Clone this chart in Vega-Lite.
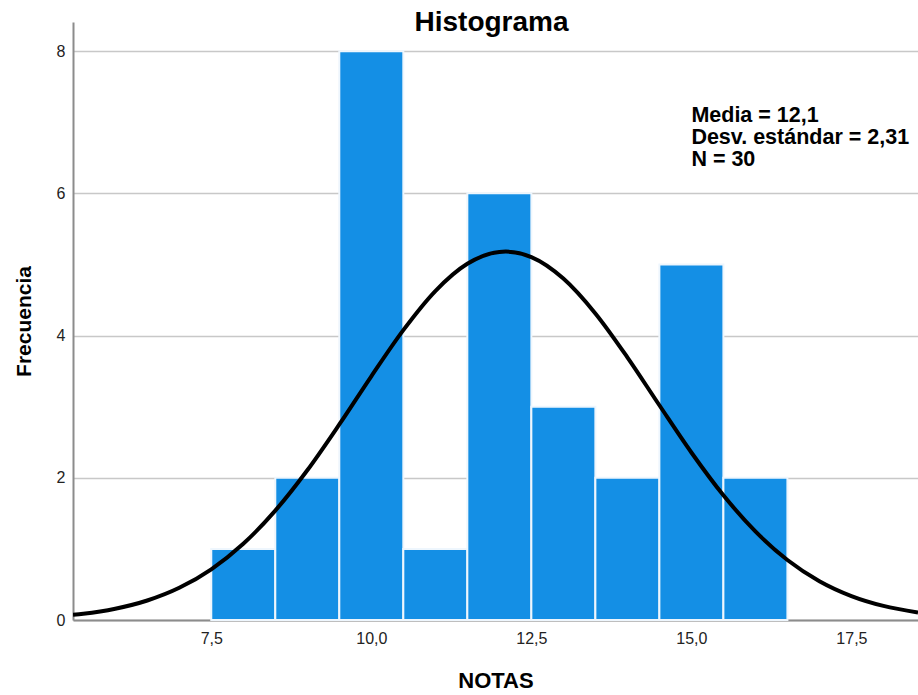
{
  "$schema": "https://vega.github.io/schema/vega-lite/v6.json",
  "autosize": "none",
  "width": 845,
  "height": 598,
  "padding": {"left": 73, "top": 22, "right": 0, "bottom": 75},
  "background": "white",
  "config": {
    "font": "Liberation Sans",
    "view": {"stroke": null},
    "axis": {"labelFont": "Liberation Sans", "titleFont": "Liberation Sans"}
  },
  "title": {
    "text": "Histograma",
    "fontSize": 28,
    "fontWeight": "bold",
    "font": "Liberation Sans",
    "anchor": "middle",
    "color": "#000000",
    "offset": 0,
    "dx": -4,
    "dy": 15
  },
  "datasets": {
    "bars": [
      {"nota": 8, "lo": 7.5, "hi": 8.5, "frecuencia": 1},
      {"nota": 9, "lo": 8.5, "hi": 9.5, "frecuencia": 2},
      {"nota": 10, "lo": 9.5, "hi": 10.5, "frecuencia": 8},
      {"nota": 11, "lo": 10.5, "hi": 11.5, "frecuencia": 1},
      {"nota": 12, "lo": 11.5, "hi": 12.5, "frecuencia": 6},
      {"nota": 13, "lo": 12.5, "hi": 13.5, "frecuencia": 3},
      {"nota": 14, "lo": 13.5, "hi": 14.5, "frecuencia": 2},
      {"nota": 15, "lo": 14.5, "hi": 15.5, "frecuencia": 5},
      {"nota": 16, "lo": 15.5, "hi": 16.5, "frecuencia": 2}
    ],
    "curve": [
      {"x": 5.34, "y": 0.0722},
      {"x": 5.5, "y": 0.0875},
      {"x": 6.0, "y": 0.1586},
      {"x": 6.5, "y": 0.2743},
      {"x": 7.0, "y": 0.4528},
      {"x": 7.5, "y": 0.7134},
      {"x": 8.0, "y": 1.0723},
      {"x": 8.5, "y": 1.5382},
      {"x": 9.0, "y": 2.1054},
      {"x": 9.5, "y": 2.75},
      {"x": 10.0, "y": 3.4275},
      {"x": 10.5, "y": 4.0762},
      {"x": 11.0, "y": 4.6257},
      {"x": 11.5, "y": 5.0092},
      {"x": 12.0, "y": 5.1762},
      {"x": 12.1, "y": 5.1811},
      {"x": 12.5, "y": 5.104},
      {"x": 13.0, "y": 4.8024},
      {"x": 13.5, "y": 4.3118},
      {"x": 14.0, "y": 3.6941},
      {"x": 14.5, "y": 3.0201},
      {"x": 15.0, "y": 2.356},
      {"x": 15.5, "y": 1.7539},
      {"x": 16.0, "y": 1.2458},
      {"x": 16.5, "y": 0.8444},
      {"x": 17.0, "y": 0.5462},
      {"x": 17.5, "y": 0.3371},
      {"x": 18.0, "y": 0.1985},
      {"x": 18.54, "y": 0.1059}
    ],
    "stats": [
      {"x": 15.0, "y": 7.24, "label": ["Media = 12,1", "Desv. estándar = 2,31", "N = 30"]}
    ]
  },
  "layer": [
    {
      "data": {"name": "bars"},
      "mark": {"type": "bar", "color": "#148fe5", "stroke": "#eef6fd", "strokeWidth": 2},
      "encoding": {
        "x": {
          "field": "lo",
          "type": "quantitative",
          "scale": {"domain": [5.34, 18.54], "nice": false, "zero": false},
          "axis": {
            "title": "NOTAS",
            "values": [7.5, 10, 12.5, 15, 17.5],
            "labelExpr": "replace(format(datum.value, '.1f'), '.', ',')",
            "grid": false,
            "ticks": false,
            "labelFontSize": 16,
            "labelColor": "#222222",
            "labelPadding": 10,
            "titleFontSize": 22,
            "titleFontWeight": "bold",
            "titleColor": "#000000",
            "titlePadding": 24,
            "domainColor": "#8c8c8c",
            "domainWidth": 2
          }
        },
        "x2": {"field": "hi"},
        "y": {
          "field": "frecuencia",
          "type": "quantitative",
          "scale": {"domain": [0, 8.41], "nice": false},
          "axis": {
            "title": "Frecuencia",
            "values": [0, 2, 4, 6, 8],
            "format": "d",
            "grid": true,
            "gridColor": "#c8c8c8",
            "gridWidth": 1.5,
            "ticks": false,
            "labelFontSize": 16,
            "labelColor": "#222222",
            "labelPadding": 8,
            "titleFontSize": 21,
            "titleFontWeight": "bold",
            "titleColor": "#000000",
            "titlePadding": 22,
            "domainColor": "#8c8c8c",
            "domainWidth": 2
          }
        },
        "y2": {"datum": 0}
      }
    },
    {
      "data": {"name": "curve"},
      "mark": {"type": "line", "color": "#000000", "strokeWidth": 4, "interpolate": "monotone", "clip": true},
      "encoding": {
        "x": {"field": "x", "type": "quantitative"},
        "y": {"field": "y", "type": "quantitative"}
      }
    },
    {
      "data": {"name": "stats"},
      "mark": {"type": "text", "align": "left", "baseline": "top", "fontSize": 21.5, "fontWeight": "bold", "lineHeight": 22, "color": "#000000", "font": "Liberation Sans"},
      "encoding": {
        "x": {"field": "x", "type": "quantitative"},
        "y": {"field": "y", "type": "quantitative"},
        "text": {"field": "label"}
      }
    }
  ]
}
